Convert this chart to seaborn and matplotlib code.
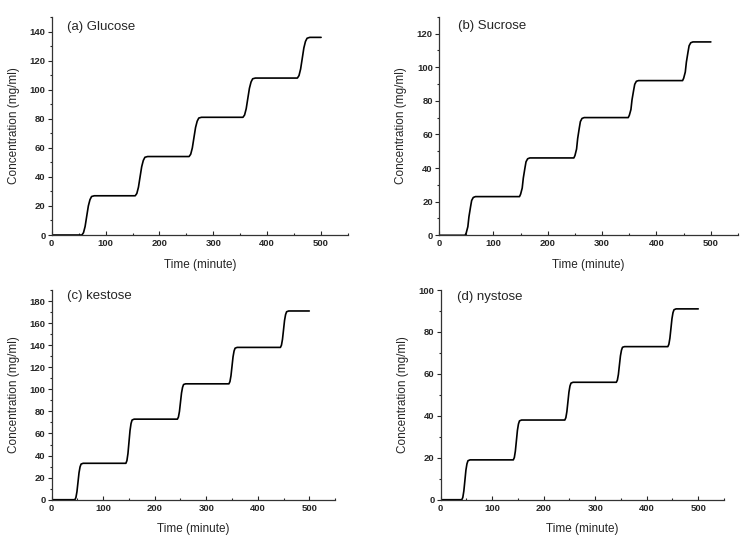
import seaborn as sns
import matplotlib.pyplot as plt
from matplotlib.ticker import MultipleLocator

# (a) Glucose
glucose_t = [0, 56, 59, 62, 65, 68, 71, 74, 79,
             155, 158, 161, 164, 167, 170, 173, 178,
             255, 258, 261, 264, 267, 270, 273, 278,
             355, 358, 361, 364, 367, 370, 373, 378,
             456, 459, 462, 465, 468, 471, 474, 479, 500]
glucose_c = [0, 0, 1.6, 5.9, 13.0, 20.0, 24.3, 26.5, 27,
             27, 28.6, 32.9, 40.0, 47.0, 51.3, 53.5, 54,
             54, 55.6, 59.9, 67.0, 74.0, 78.3, 80.5, 81,
             81, 82.6, 86.9, 94.0, 101.0, 105.3, 107.5, 108,
             108, 109.7, 114.2, 121.4, 128.7, 133.2, 135.4, 136, 136]

# (b) Sucrose
sucrose_t = [0, 48, 50, 53, 55, 58, 60, 63, 67,
             148, 150, 153, 155, 158, 160, 163, 167,
             248, 250, 253, 255, 258, 260, 263, 267,
             348, 350, 353, 355, 358, 360, 363, 367,
             448, 450, 453, 455, 458, 460, 463, 467, 500]
sucrose_c = [0, 0, 1.4, 5.1, 11.0, 17.0, 20.7, 22.5, 23,
             23, 24.4, 28.1, 34.0, 40.0, 43.7, 45.5, 46,
             46, 47.4, 51.3, 57.5, 63.8, 67.6, 69.5, 70,
             70, 71.3, 74.8, 80.6, 86.3, 89.8, 91.6, 92,
             92, 93.4, 97.1, 103.0, 109.0, 112.7, 114.5, 115, 115]

# (c) kestose
kestose_t = [0, 45, 47, 49, 51, 53, 55, 57, 61,
             144, 146, 148, 150, 152, 154, 156, 160,
             244, 246, 248, 250, 252, 254, 256, 260,
             344, 346, 348, 350, 352, 354, 356, 360,
             444, 446, 448, 450, 452, 454, 456, 460, 500]
kestose_c = [0, 0, 2.0, 7.3, 15.8, 24.4, 29.7, 32.3, 33,
             33, 35.4, 41.8, 52.2, 62.6, 69.0, 72.2, 73,
             73, 74.9, 80.0, 88.4, 96.7, 101.8, 104.4, 105,
             105, 107.0, 112.3, 120.8, 129.4, 134.7, 137.3, 138,
             138, 140.0, 145.3, 153.8, 162.4, 167.7, 170.3, 171, 171]

# (d) nystose
nystose_t = [0, 41, 43, 45, 47, 49, 51, 53, 57,
             141, 143, 145, 147, 149, 151, 153, 157,
             241, 243, 245, 247, 249, 251, 253, 257,
             341, 343, 345, 347, 349, 351, 353, 357,
             441, 443, 445, 447, 449, 451, 453, 457, 500]
nystose_c = [0, 0, 1.1, 4.2, 9.1, 14.1, 17.1, 18.6, 19,
             19, 20.1, 23.2, 28.1, 33.1, 36.1, 37.6, 38,
             38, 39.1, 42.0, 46.6, 51.3, 54.2, 55.6, 56,
             56, 57.0, 59.7, 64.2, 68.6, 71.3, 72.7, 73,
             73, 74.1, 77.0, 81.6, 86.3, 89.2, 90.6, 91, 91]

sns.set_style("ticks")
plt.rcParams['font.family'] = ['Liberation Sans', 'DejaVu Sans']

fig = plt.figure(figsize=(7.43, 5.44), dpi=100)

panels = [
    ("(a) Glucose", glucose_t, glucose_c, [0.0696, 0.568, 0.3988, 0.4007], 150, (0.05, 0.955)),
    ("(b) Sucrose", sucrose_t, sucrose_c, [0.5909, 0.5675, 0.4024, 0.4018], 130, (0.065, 0.959)),
    ("(c) kestose", kestose_t, kestose_c, [0.0696, 0.0814, 0.3813, 0.3855], 190, (0.055, 0.971)),
    ("(d) nystose", nystose_t, nystose_c, [0.5931, 0.0814, 0.3813, 0.3855], 100, (0.059, 0.966)),
]

for title, t, c, rect, ymax, tpos in panels:
    ax = fig.add_axes(rect)
    sns.lineplot(x=t, y=c, ax=ax, color='black', linewidth=1.2, estimator=None)
    ax.set_xlim(0, 550)
    ax.set_ylim(0, ymax)
    ax.xaxis.set_major_locator(MultipleLocator(100))
    ax.xaxis.set_minor_locator(MultipleLocator(50))
    ax.yaxis.set_major_locator(MultipleLocator(20))
    ax.yaxis.set_minor_locator(MultipleLocator(10))
    ax.tick_params(axis='x', which='both', direction='in', pad=3)
    ax.tick_params(axis='y', which='both', direction='out', pad=1.5)
    ax.tick_params(which='major', length=3, width=0.8, labelsize=6.8)
    ax.tick_params(which='minor', length=1.5, width=0.8)
    for lab in ax.get_xticklabels() + ax.get_yticklabels():
        lab.set_fontweight('bold')
    sns.despine(ax=ax)
    for s in ['left', 'bottom']:
        ax.spines[s].set_linewidth(0.9)
        ax.spines[s].set_color('#333333')
    ax.set_xlabel("Time (minute)", fontsize=8.5, labelpad=7.5)
    ax.set_ylabel("Concentration (mg/ml)", fontsize=8.5, labelpad=7)
    ax.text(tpos[0], tpos[1], title, transform=ax.transAxes, fontsize=9.5,
            ha='left', va='center')

fig.savefig("out.png", dpi=100)
